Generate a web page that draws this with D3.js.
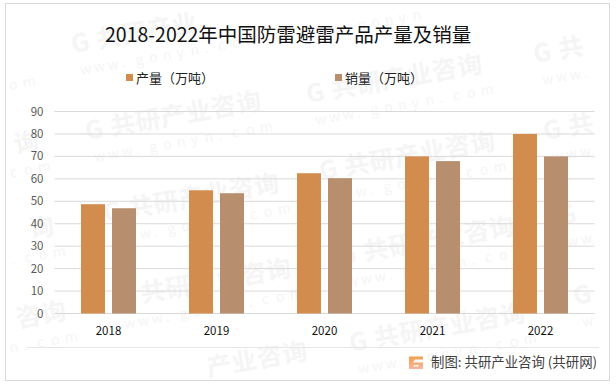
<!DOCTYPE html>
<html>
<head>
<meta charset="utf-8">
<script src="https://cdn.jsdelivr.net/npm/d3@7"></script>
<style>
  html, body { margin: 0; padding: 0; background: #fff; }
  svg { display: block; }
  text { font-family: "Noto Sans CJK SC", "Noto Sans", sans-serif; }
</style>
</head>
<body>
<div id="chart"></div>
<script>
const years = ["2018", "2019", "2020", "2021", "2022"];
const output = [48.7, 54.9, 62.5, 70, 80];
const sales = [46.9, 53.6, 60.3, 67.9, 70];
const yTicks = [0, 10, 20, 30, 40, 50, 60, 70, 80, 90];
const seriesNames = ["产量（万吨）", "销量（万吨）"];
const seriesColors = ["#d18c4e", "#b88f6e"];

const width = 616, height = 385;

const svg = d3.select("#chart").append("svg")
  .attr("width", width)
  .attr("height", height);

// frame
svg.append("rect")
  .attr("x", 5.5).attr("y", 3.5)
  .attr("width", 604).attr("height", 377)
  .attr("fill", "#fff")
  .attr("stroke", "#d9d9d9")
  .attr("stroke-width", 1);

// watermark, start of each stamp
const stamps = [
  [-150, 95], [-135, 180], [-120, 265], [-108, 350],
  [73, 53], [87, 140], [105, 222], [117, 307], [133, 390],
  [295, 18], [308, 103], [321, 180], [340, 265], [351, 352],
  [535, 63], [545, 140], [560, 225], [575, 305], [590, 390]
];
const marks = svg.append("g").attr("id", "watermark");
const angle = -10 * Math.PI / 180;

// one glyph at a time so nothing crosses the frame
function stampGlyphs(chars, wx, wy, step, size, weight) {
  Array.from(chars).forEach((c, k) => {
    const ax = wx + k * step * Math.cos(angle);
    const ay = wy + k * step * Math.sin(angle);
    if (c === " " || ax < 8 || ax > 606 - size || ay < 6 + size || ay > 378) return;
    marks.append("text")
      .attr("transform", `translate(${ax},${ay}) rotate(-10)`)
      .attr("font-size", size)
      .attr("font-weight", weight)
      .attr("fill", "#f5f5f5")
      .text(c);
  });
}

stamps.forEach((s) => {
  stampGlyphs("G共研产业咨询", s[0], s[1], 25.5, 25, 700);
  stampGlyphs("www.gonyn.com", s[0] + 8, s[1] + 22, 14, 14, 400);
});

const x = d3.scaleBand().domain(years).range([54.5, 594.5]);
const y = d3.scaleLinear().domain([0, 90]).range([313.5, 111.5]);

const barWidth = 24, barGap = 7;
const offsets = [-barWidth - barGap / 2, barGap / 2];

// gridlines
svg.append("g")
  .selectAll("line")
  .data(yTicks)
  .enter()
  .append("line")
  .attr("x1", 54.5).attr("x2", 594.5)
  .attr("y1", (d) => y(d)).attr("y2", (d) => y(d))
  .attr("stroke", "#d9d9d9")
  .attr("stroke-width", 1);

// y tick labels
svg.append("g")
  .selectAll("text")
  .data(yTicks)
  .enter()
  .append("text")
  .attr("x", 43.5)
  .attr("y", (d) => y(d) + 4)
  .attr("text-anchor", "end")
  .attr("font-size", 11.5)
  .attr("fill", "#595959")
  .text((d) => d);

// bars
[output, sales].forEach((values, s) => {
  svg.append("g")
    .selectAll("rect")
    .data(values)
    .enter()
    .append("rect")
    .attr("x", (d, i) => x(years[i]) + x.bandwidth() / 2 + offsets[s])
    .attr("y", (d) => y(d))
    .attr("width", barWidth)
    .attr("height", (d) => y(0) - y(d))
    .attr("fill", seriesColors[s]);
});

// x labels
svg.append("g")
  .selectAll("text")
  .data(years)
  .enter()
  .append("text")
  .attr("x", (d) => x(d) + x.bandwidth() / 2)
  .attr("y", 335)
  .attr("text-anchor", "middle")
  .attr("font-size", 11.5)
  .attr("fill", "#111")
  .text((d) => d);

// title
svg.append("text")
  .attr("x", 105).attr("y", 42)
  .attr("font-size", 19.5)
  .attr("fill", "#111")
  .text("2018-2022年中国防雷避雷产品产量及销量");

// legend
const legendX = [126, 335];
seriesNames.forEach((name, i) => {
  svg.append("rect")
    .attr("x", legendX[i]).attr("y", 74)
    .attr("width", 7).attr("height", 7)
    .attr("fill", seriesColors[i]);
  svg.append("text")
    .attr("x", legendX[i] + 10).attr("y", 83)
    .attr("font-size", 13)
    .attr("fill", "#222")
    .text(name);
});

// footer
svg.append("line")
  .attr("x1", 27).attr("x2", 599)
  .attr("y1", 347.5).attr("y2", 347.5)
  .attr("stroke", "#e6e6e6");

const grad = svg.append("defs").append("linearGradient")
  .attr("id", "logoGrad")
  .attr("x1", 0).attr("y1", 0).attr("x2", 0).attr("y2", 1);
grad.append("stop").attr("offset", 0).attr("stop-color", "#f3a04e");
grad.append("stop").attr("offset", 1).attr("stop-color", "#f7b49a");

svg.append("path")
  .attr("d", "M409 356.5h14v3h-8l-2 3h10v6.5h-14z M413.5 365v1.5h5v-1.5z")
  .attr("fill", "url(#logoGrad)")
  .attr("fill-rule", "evenodd");

svg.append("text")
  .attr("x", 431).attr("y", 367)
  .attr("font-size", 13.4)
  .attr("fill", "#404040")
  .text("制图: 共研产业咨询 (共研网)");
</script>
</body>
</html>
